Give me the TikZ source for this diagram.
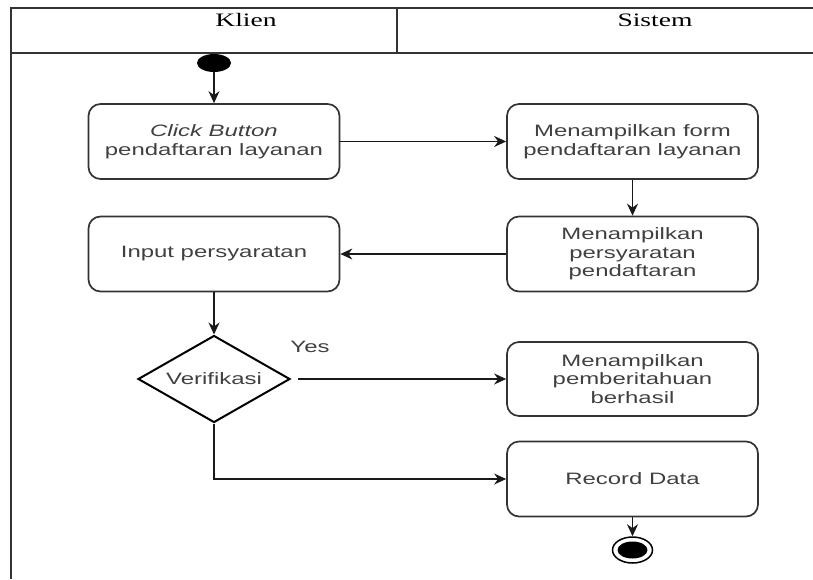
\documentclass[tikz,border=0pt]{standalone}
\usepackage{fontspec}
\setmainfont{Liberation Serif}
\newfontfamily\boxfont[FakeStretch=1.45]{Liberation Sans}
\newfontfamily\headfont[FakeStretch=1.45]{Liberation Serif}
\usetikzlibrary{shapes.geometric,arrows.meta}
\definecolor{txtgray}{HTML}{404040}
\definecolor{linegray}{HTML}{333333}
\tikzset{
  act/.style={rounded corners=12pt, draw=linegray, line width=1.7pt,
    minimum width=251pt, minimum height=75pt, align=center, text=txtgray,
    inner sep=0pt, font=\boxfont\fontsize{16.5}{18.5}\selectfont},
  dec/.style={diamond, shape aspect=1.75, draw=black, line width=2pt, minimum width=152pt,
    minimum height=87pt, inner sep=0pt, text=txtgray,
    font=\boxfont\fontsize{16.5}{18.5}\selectfont},
  arr/.style={-{Stealth[length=12pt,width=11pt]}, line width=1.4pt, draw=black!90},
  lane/.style={draw=linegray, line width=1.1pt},
  head/.style={font=\headfont\fontsize{19}{21}\selectfont, text=black},
}
\begin{document}
\begin{tikzpicture}[x=1pt,y=-1pt]
\useasboundingbox (0,0) rectangle (813,579);
% swimlane table
\draw[lane] (11,579) -- (11,8) -- (813,8);
\draw[lane] (11,53) -- (813,53);
\draw[lane] (397,8) -- (397,53);
\node[head] (hk) at (246,20) {Klien};
\node[head] (hs) at (655,20) {Sistem};
% start
\node[ellipse, fill=black, minimum width=34pt, minimum height=18pt, inner sep=0pt] (start) at (214,63) {};
% activities
\node[act] (b1) at (214,141.5) {\itshape Click Button\\pendaftaran layanan};
\node[act] (b2) at (632.5,141.5) {Menampilkan form\\pendaftaran layanan};
\node[act] (b3) at (632.5,254) {Menampilkan\\persyaratan\\pendaftaran};
\node[act] (inp) at (214,254) {Input persyaratan};
\node[dec] (ver) at (214,379) {Verifikasi};
\node[act, minimum height=74pt] (b4) at (632.5,379) {Menampilkan\\pemberitahuan\\berhasil};
\node[act] (rec) at (632.5,479) {Record Data};
% end
\node[ellipse, draw=black, line width=1.5pt, minimum width=40pt, minimum height=26pt, inner sep=0pt] (endo) at (632.5,550) {};
\node[ellipse, fill=black, minimum width=30pt, minimum height=17pt, inner sep=0pt] (endi) at (632.5,550) {};
% label
\node[font=\boxfont\fontsize{16.5}{18.5}\selectfont, text=txtgray] (yes) at (310,347) {Yes};
% connectors
\draw[arr] (start) -- (b1);
\draw[arr] (b1) -- (b2);
\draw[arr] (b2) -- (b3);
\draw[arr] (b3) -- (inp);
\draw[arr] (inp) -- (ver);
\coordinate (ys) at (298,379);
\draw[arr] (ys) -- (b4);
\draw[arr] (ver.south) |- (rec.west);
\draw[arr] (rec) -- (endo);
\end{tikzpicture}
\end{document}
